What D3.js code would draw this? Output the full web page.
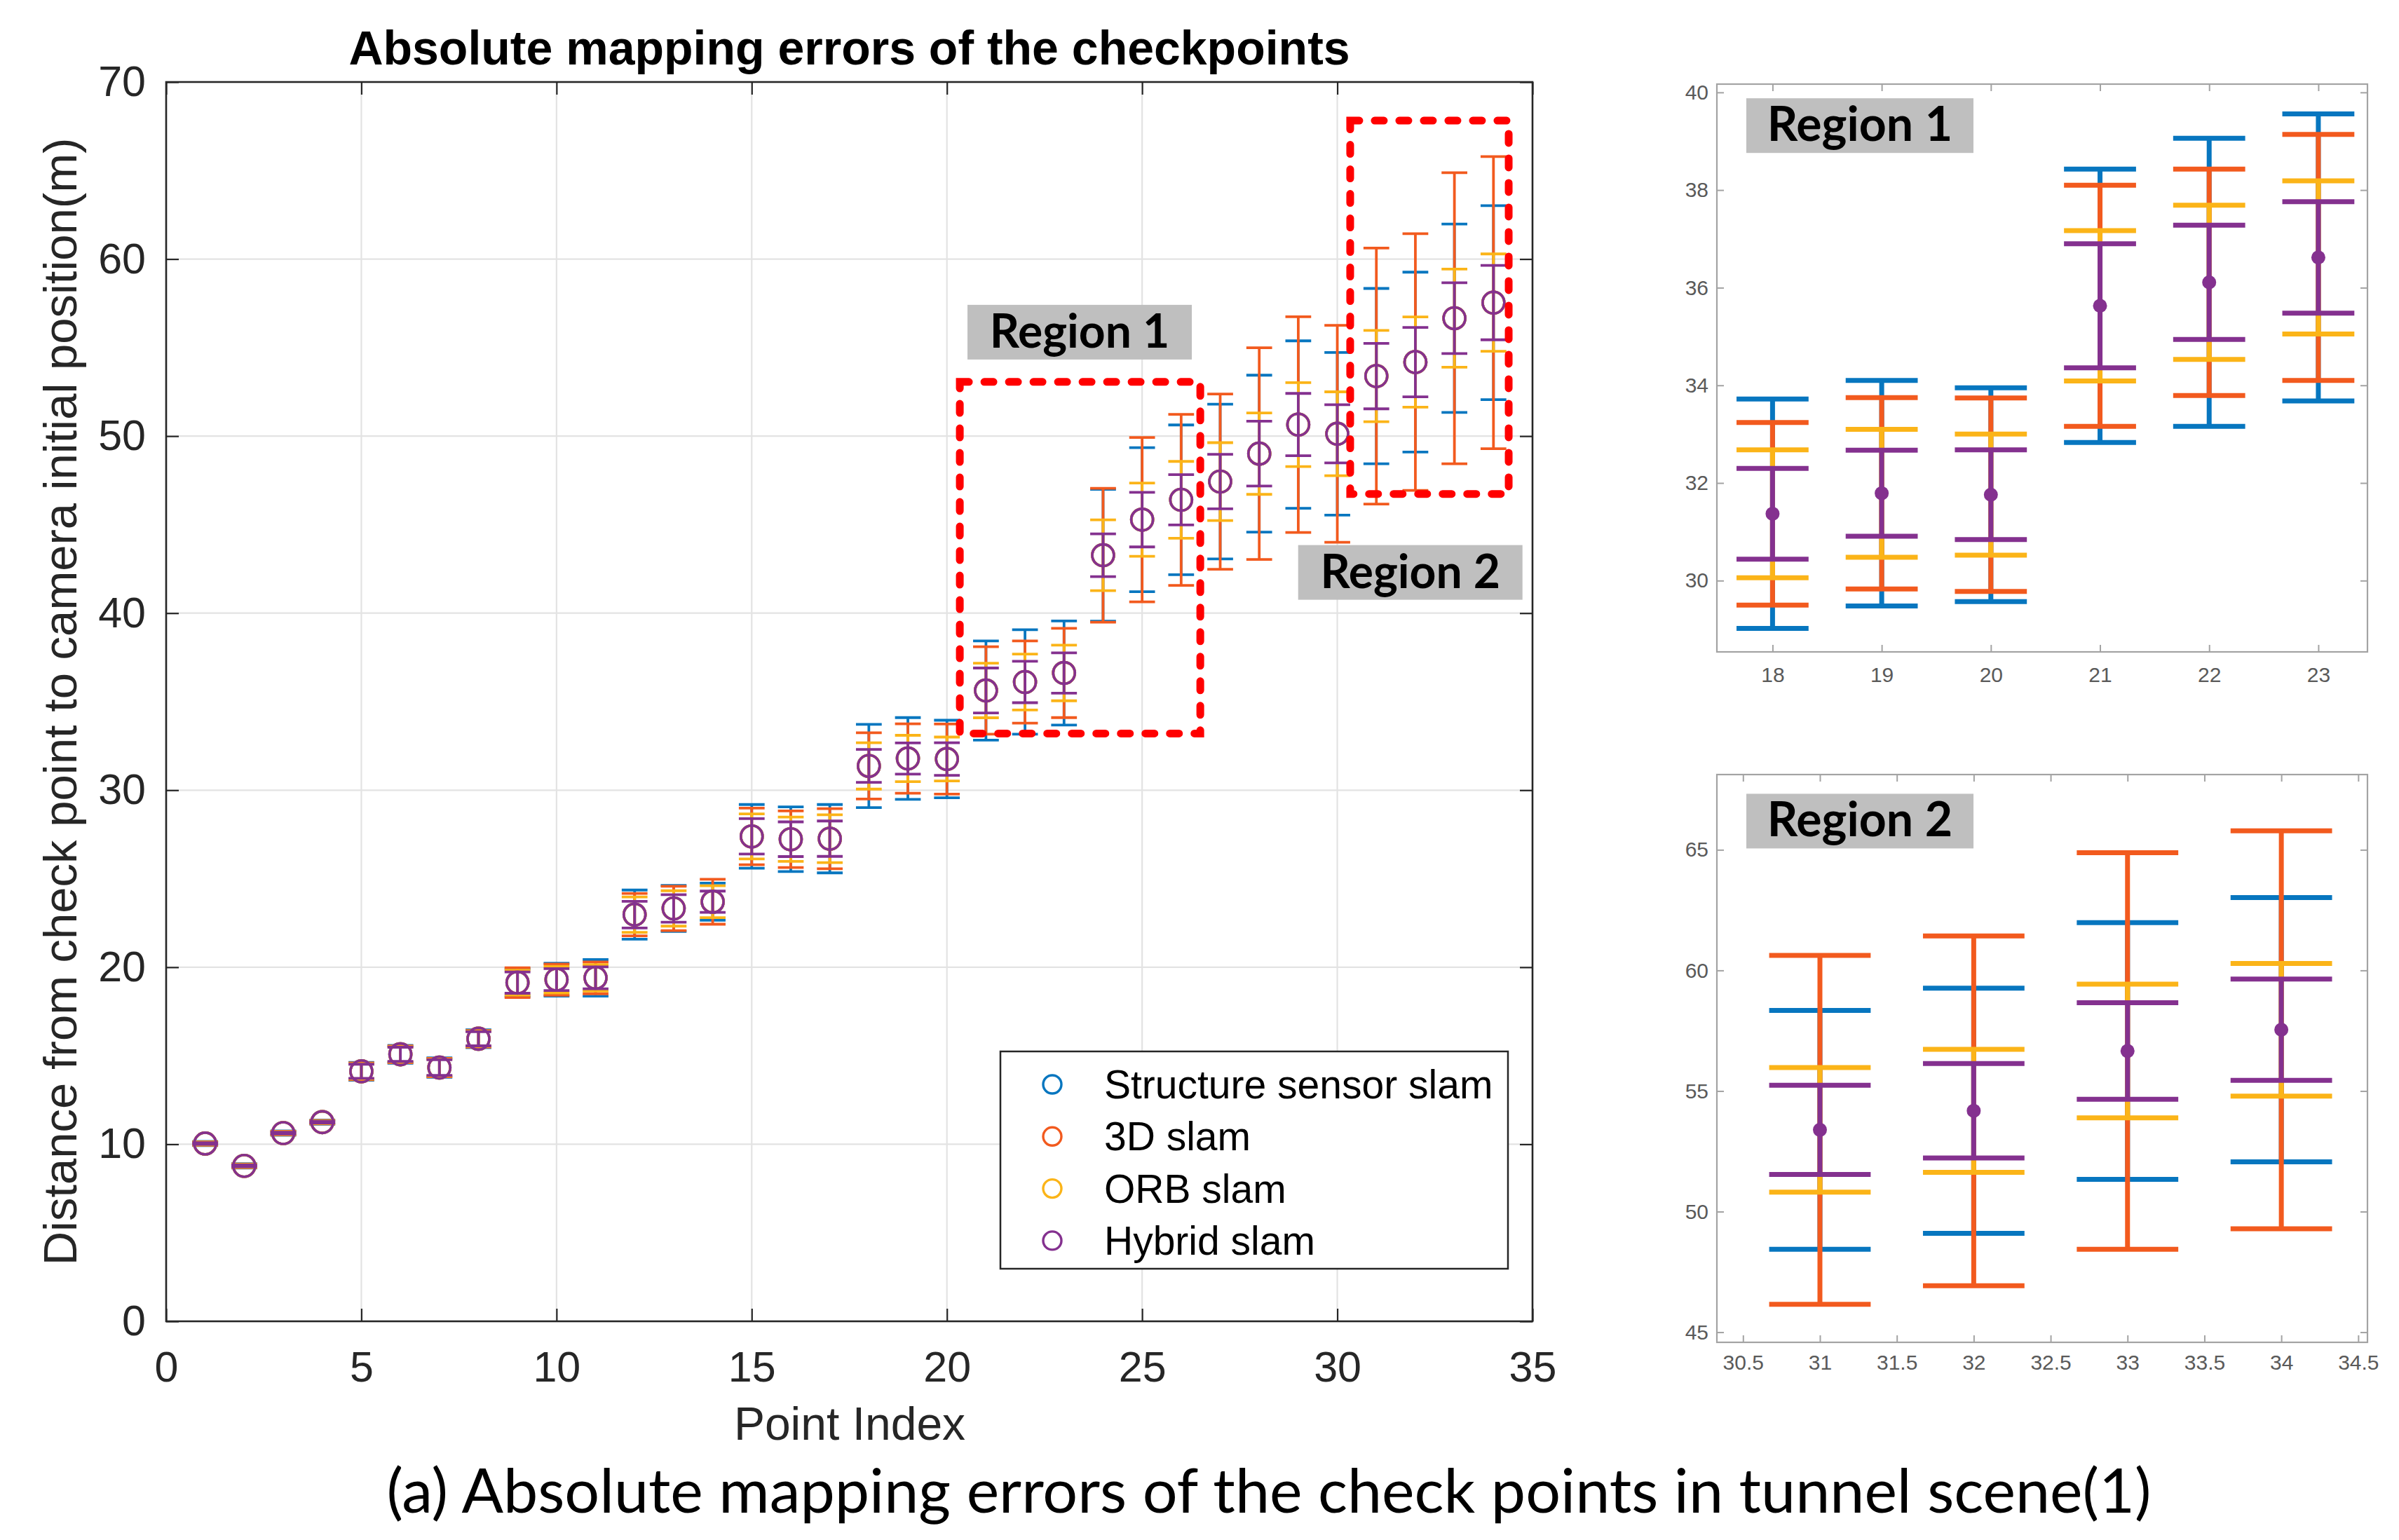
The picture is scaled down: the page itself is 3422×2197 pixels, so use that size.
<!DOCTYPE html>
<html><head><meta charset="utf-8">
<script src="https://cdn.jsdelivr.net/npm/d3@7"></script>
<style>
body{margin:0;background:#fff}
</style>
</head><body>
<svg id="chart" width="3422" height="2197" font-family="'Liberation Sans', Arial, sans-serif"></svg>
<script>
// ---------------- DATA ----------------
const pointIndex = [1,2,3,4,5,6,7,8,9,10,11,12,13,14,15,16,17,18,19,20,21,22,23,24,25,26,27,28,29,30,31,32,33,34];
const meanDistance = [10.04,8.78,10.63,11.25,14.12,15.08,14.33,15.96,19.13,19.30,19.40,22.97,23.32,23.70,27.39,27.23,27.26,31.37,31.79,31.76,35.63,36.11,36.62,43.27,45.28,46.40,47.43,49.01,50.65,50.13,53.39,54.18,56.66,57.54];
const errStructure = [0.12,0.12,0.12,0.12,0.50,0.50,0.55,0.50,0.78,0.93,1.03,1.39,1.30,1.05,1.80,1.83,1.93,2.35,2.31,2.19,2.80,2.95,2.94,3.72,4.07,4.23,4.37,4.43,4.73,4.59,4.95,5.08,5.32,5.48];
const err3D        = [0.10,0.10,0.10,0.10,0.47,0.47,0.52,0.47,0.84,0.88,0.90,1.20,1.25,1.27,1.60,1.60,1.70,1.87,1.96,1.98,2.47,2.32,2.52,3.78,4.64,4.83,4.95,5.98,6.09,6.13,7.23,7.25,8.22,8.25];
const errORB       = [0.08,0.08,0.08,0.08,0.43,0.43,0.47,0.43,0.70,0.75,0.75,1.00,1.00,0.90,1.27,1.25,1.35,1.31,1.31,1.24,1.54,1.58,1.57,2.00,2.07,2.17,2.20,2.30,2.37,2.37,2.58,2.55,2.77,2.75];
const errHybrid    = [0.05,0.05,0.05,0.05,0.40,0.40,0.44,0.40,0.60,0.62,0.62,0.75,0.78,0.60,1.00,0.98,1.00,0.93,0.88,0.92,1.27,1.17,1.14,1.21,1.54,1.42,1.54,1.83,1.76,1.64,1.85,1.96,2.00,2.10];

const seriesNames  = ["Structure sensor slam","3D slam","ORB slam","Hybrid slam"];
const seriesColors = ["#0776BF","#F25A1E","#FBB418","#84318F"];
const seriesErrors = [errStructure, err3D, errORB, errHybrid];

const mainXTicks = [0,5,10,15,20,25,30,35];
const mainYTicks = [0,10,20,30,40,50,60,70];
const region1XTicks = [18,19,20,21,22,23];
const region1YTicks = [30,32,34,36,38,40];
const region2XTicks = [30.5,31,31.5,32,32.5,33,33.5,34,34.5];
const region2YTicks = [45,50,55,60,65];

const titleText = "Absolute mapping errors of the checkpoints";
const xLabelText = "Point Index";
const yLabelText = "Distance from check point to camera initial position(m)";
const captionText = "(a) Absolute mapping errors of the check points in tunnel scene(1)";

// annotation boxes in data units (main axes)
const regionBoxes = [
  {x0:20.33, x1:26.49, y0:33.2, y1:53.06},
  {x0:30.33, x1:34.39, y0:46.73, y1:67.82}
];
const regionTags = [
  {label:"Region 1", x:23.40, y:55.87},
  {label:"Region 2", x:31.87, y:42.30}
];

// ---------------- DRAW ----------------
const SANS = "'Liberation Sans', Arial, sans-serif";
const HUM = "Lato, 'Open Sans', sans-serif";
const svg = d3.select("#chart");
svg.append("rect").attr("width",3422).attr("height",2197).attr("fill","#fff");

const points = pointIndex.map((p,i)=>({x:p, m:meanDistance[i], e:seriesErrors.map(a=>a[i])}));

function drawGrid(g, xs, ys, xt, yt){
  const [x0,x1] = xs.range(), [y0,y1] = ys.range();
  g.append("g").selectAll("line").data(xt).join("line")
    .attr("x1",d=>xs(d)).attr("x2",d=>xs(d)).attr("y1",y0).attr("y2",y1)
    .attr("stroke","#e3e3e3").attr("stroke-width",2.2);
  g.append("g").selectAll("line").data(yt).join("line")
    .attr("y1",d=>ys(d)).attr("y2",d=>ys(d)).attr("x1",x0).attr("x2",x1)
    .attr("stroke","#e3e3e3").attr("stroke-width",2.2);
}
function drawFrame(g, xs, ys, xt, yt, o){
  const [x0,x1] = xs.range(), [y0,y1] = ys.range();
  const fmt = d=>String(d);
  const style = (sel)=>{
    sel.attr("font-family",SANS).attr("font-size",o.fs);
    sel.select(".domain").remove();
    sel.selectAll(".tick line").attr("stroke",o.color).attr("stroke-width",o.sw);
    sel.selectAll(".tick text").attr("fill",o.textColor);
  };
  g.append("g").attr("transform",`translate(0,${y0})`)
    .call(d3.axisBottom(xs).tickValues(xt).tickSize(-o.tick).tickPadding(o.padX).tickFormat(fmt)).call(style);
  g.append("g").attr("transform",`translate(0,${y1})`)
    .call(d3.axisTop(xs).tickValues(xt).tickSize(-o.tick).tickFormat("")).call(style);
  g.append("g").attr("transform",`translate(${x0},0)`)
    .call(d3.axisLeft(ys).tickValues(yt).tickSize(-o.tick).tickPadding(o.padY).tickFormat(fmt)).call(style);
  g.append("g").attr("transform",`translate(${x1},0)`)
    .call(d3.axisRight(ys).tickValues(yt).tickSize(-o.tick).tickFormat("")).call(style);
  g.append("rect").attr("x",x0).attr("y",y1).attr("width",x1-x0).attr("height",y0-y1)
    .attr("fill","none").attr("stroke",o.color).attr("stroke-width",o.bw);
}

function drawErrorBars(g, xs, ys, pts, o){
  seriesColors.forEach((c,s)=>{
    const sg = g.append("g");
    pts.forEach(p=>{
      const e = p.e[s];
      sg.append("line").attr("x1",xs(p.x)).attr("x2",xs(p.x)).attr("y1",ys(p.m-e)).attr("y2",ys(p.m+e))
        .attr("stroke",c).attr("stroke-width",o.sw);
      [p.m-e,p.m+e].forEach(v=>{
        sg.append("line").attr("x1",xs(p.x-o.cap)).attr("x2",xs(p.x+o.cap)).attr("y1",ys(v)).attr("y2",ys(v))
          .attr("stroke",c).attr("stroke-width",o.sw);
      });
      if(o.dot){
        if(s===3) sg.append("circle").attr("cx",xs(p.x)).attr("cy",ys(p.m)).attr("r",o.r).attr("fill",c);
      } else {
        sg.append("circle").attr("cx",xs(p.x)).attr("cy",ys(p.m)).attr("r",o.r)
          .attr("fill","none").attr("stroke",c).attr("stroke-width",o.msw);
      }
    });
  });
}

function drawTag(g, cx, cy, label, w, h, fs){
  g.append("rect").attr("x",cx-w/2).attr("y",cy-h/2).attr("width",w).attr("height",h).attr("fill","#bfbfbf");
  g.append("text").attr("x",cx).attr("y",cy+h/2-17).attr("text-anchor","middle")
    .attr("font-family",HUM).attr("font-weight","bold")
    .attr("font-size",fs).attr("fill","#000").text(label);
}

// ----- main panel -----
const x = d3.scaleLinear().domain([0,35]).range([237,2186]);
const y = d3.scaleLinear().domain([0,70]).range([1885,117]);
const gm = svg.append("g");
drawGrid(gm, x, y, mainXTicks, mainYTicks);
drawErrorBars(gm, x, y, points, {sw:3.8, cap:0.33, r:15.5, msw:3.6});
drawFrame(gm, x, y, mainXTicks, mainYTicks, {color:"#262626", textColor:"#262626", sw:2.2, bw:2.6, tick:18, padX:43, padY:29, fs:61});

// title and labels
gm.append("text").attr("x",(x.range()[0]+x.range()[1])/2).attr("y",92).attr("text-anchor","middle")
  .attr("font-family",SANS).attr("font-weight","bold").attr("font-size",68).attr("fill","#000").text(titleText);
gm.append("text").attr("x",1212).attr("y",2054).attr("text-anchor","middle")
  .attr("font-family",SANS).attr("font-size",66).attr("fill","#262626").text(xLabelText);
gm.append("text").attr("transform",`translate(109,${(y.range()[0]+y.range()[1])/2}) rotate(-90)`)
  .attr("text-anchor","middle").attr("font-family",SANS).attr("font-size",67).attr("fill","#262626").text(yLabelText);

// region boxes
regionBoxes.forEach(b=>{
  gm.append("rect").attr("x",x(b.x0)).attr("y",y(b.y1)).attr("width",x(b.x1)-x(b.x0)).attr("height",y(b.y0)-y(b.y1))
    .attr("fill","none").attr("stroke","#ff0000").attr("stroke-width",11)
    .attr("stroke-dasharray","13,22").attr("stroke-linecap","round");
});
regionTags.forEach(t=>drawTag(gm, x(t.x), y(t.y), t.label, 320, 78, 66));

// legend
const lg = gm.append("g");
lg.append("rect").attr("x",1427).attr("y",1500).attr("width",724).attr("height",310)
  .attr("fill","#fff").attr("stroke","#262626").attr("stroke-width",2.5);
seriesNames.forEach((n,i)=>{
  const cy = 1547 + i*74.3;
  lg.append("circle").attr("cx",1501).attr("cy",cy).attr("r",13).attr("fill","none")
    .attr("stroke",seriesColors[i]).attr("stroke-width",3.4);
  lg.append("text").attr("x",1575).attr("y",cy+20).attr("font-family",SANS).attr("font-size",57).attr("fill","#000").text(n);
});

// ----- inset 1 -----
const x1s = d3.scaleLinear().domain([17.49,23.45]).range([2449,3377]);
const y1s = d3.scaleLinear().domain([28.54,40.17]).range([930,120]);
const g1 = svg.append("g");
drawErrorBars(g1, x1s, y1s, points.filter(p=>p.x>=17.49 && p.x<=23.45), {sw:7, cap:0.33, r:10, dot:true});
drawFrame(g1, x1s, y1s, region1XTicks, region1YTicks, {color:"#a3a3a3", textColor:"#5a5a5a", sw:2, bw:2.2, tick:10, padX:22, padY:12, fs:30});
drawTag(g1, x1s(18.80), y1s(39.32), "Region 1", 324, 78, 68);

// ----- inset 2 -----
const x2s = d3.scaleLinear().domain([30.33,34.56]).range([2449,3377]);
const y2s = d3.scaleLinear().domain([44.58,68.12]).range([1915,1105]);
const g2 = svg.append("g");
drawErrorBars(g2, x2s, y2s, points.filter(p=>p.x>=30.33 && p.x<=34.56), {sw:7, cap:0.33, r:10, dot:true});
drawFrame(g2, x2s, y2s, region2XTicks, region2YTicks, {color:"#a3a3a3", textColor:"#5a5a5a", sw:2, bw:2.2, tick:10, padX:18, padY:12, fs:30});
drawTag(g2, x2s(31.26), y2s(66.19), "Region 2", 324, 78, 68);

// ----- caption -----
const cap = svg.append("text").attr("x",1810).attr("y",2158).attr("text-anchor","middle")
  .attr("font-family",HUM).attr("font-size",80).attr("fill","#000").text(captionText);
const cl = cap.node().getComputedTextLength();
cap.attr("font-size", Math.min(88, 80*2520/cl));
</script>
</body></html>
